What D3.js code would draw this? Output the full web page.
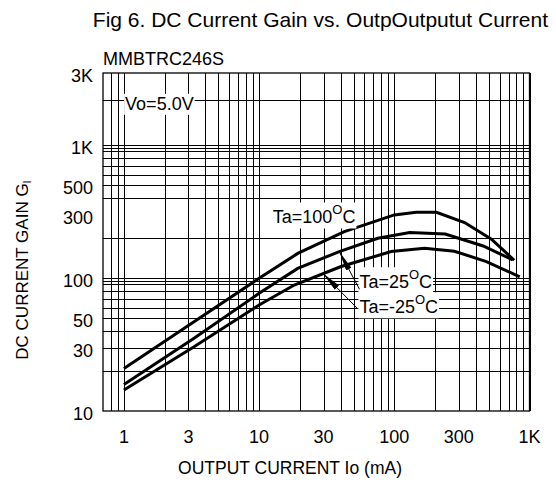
<!DOCTYPE html>
<html lang="en">
<head>
<meta charset="UTF-8">
<title>DC Current Gain vs. Output Current</title>
<script src="https://d3js.org/d3.v7.min.js"></script>
<style>
  body { margin: 0; background: #fff; }
  text { font-family: "Liberation Sans", Arial, sans-serif; fill: #000; }
</style>
</head>
<body>
<div id="chart"></div>
<script>
// curve data, Io in mA
const io100   = [1, 3.3, 10, 19.3, 42.7, 100, 145, 205, 331, 523, 770];
const gain100 = [20.9, 46.9, 99.5, 153, 223, 298, 312, 312, 261, 196, 136];

const io25    = [1, 3.3, 10, 19.3, 39.2, 75.5, 130, 238, 454, 750];
const gain25  = [15.8, 35.2, 76.7, 118, 158, 199, 220, 214, 174, 137];

const ioM25   = [1, 3.3, 10, 18.2, 40.4, 94.8, 167, 278, 480, 847];
const gainM25 = [14.4, 30.4, 62.7, 88.5, 122, 158, 167, 159, 133, 102];

// tick labels
const xTicks = [1, 3, 10, 30, 100, 300, 1000];
const xTickLabels = ["1", "3", "10", "30", "100", "300", "1K"];
const yTicks = [10, 30, 50, 100, 300, 500, 1000, 3000];
const yTickLabels = ["10", "30", "50", "100", "300", "500", "1K", "3K"];

// grid of the log paper
const xGrid = [0.8, 0.9, 1, 2, 3, 4, 5, 6, 7, 8, 9, 10, 20, 30, 40, 50, 60, 70, 80, 90, 100,
               200, 300, 400, 500, 600, 700, 800, 900, 1000];
const yGrid = [20, 30, 40, 50, 60, 70, 80, 90, 95, 100, 200, 400, 500, 600, 700, 800, 900, 950, 1000, 2000];

const W = 556, H = 482;
const plotL = 103, plotR = 529.5, plotT = 73, plotB = 411;

const svg = d3.select("#chart").append("svg")
    .attr("width", W)
    .attr("height", H);

const x = d3.scaleLog().domain([0.7, 1000]).range([plotL, plotR]);
const y = d3.scaleLog().domain([10, 1000, 3000]).range([plotB, 145, plotT]);

// grid lines
svg.append("g").selectAll("line")
    .data(xGrid)
    .enter().append("line")
    .attr("x1", d => Math.round(x(d)) + 0.5)
    .attr("x2", d => Math.round(x(d)) + 0.5)
    .attr("y1", plotT)
    .attr("y2", plotB)
    .attr("stroke", "#000")
    .attr("stroke-width", 1);

svg.append("g").selectAll("line")
    .data(yGrid)
    .enter().append("line")
    .attr("x1", plotL)
    .attr("x2", plotR)
    .attr("y1", d => Math.round(y(d)) + 0.5)
    .attr("y2", d => Math.round(y(d)) + 0.5)
    .attr("stroke", "#000")
    .attr("stroke-width", 1);

// frame
svg.append("rect")
    .attr("x", plotL)
    .attr("y", plotT)
    .attr("width", plotR - plotL)
    .attr("height", plotB - plotT)
    .attr("fill", "none")
    .attr("stroke", "#000")
    .attr("stroke-width", 1.3);

// tick labels
svg.append("g").selectAll("text")
    .data(xTicks)
    .enter().append("text")
    .attr("x", d => x(d))
    .attr("y", 443)
    .attr("text-anchor", "middle")
    .style("font-size", "18px")
    .text((d, i) => xTickLabels[i]);

svg.append("g").selectAll("text")
    .data(yTicks)
    .enter().append("text")
    .attr("x", 93)
    .attr("y", d => y(d) + 9)
    .attr("text-anchor", "end")
    .style("font-size", "18px")
    .text((d, i) => yTickLabels[i]);

// titles
svg.append("text")
    .attr("x", 548)
    .attr("y", 27)
    .attr("text-anchor", "end")
    .style("font-size", "21px")
    .text("Fig 6. DC Current Gain vs. OutpOutputut Current");

svg.append("text")
    .attr("x", 103)
    .attr("y", 65)
    .style("font-size", "18px")
    .text("MMBTRC246S");

svg.append("text")
    .attr("x", 290)
    .attr("y", 474)
    .attr("text-anchor", "middle")
    .style("font-size", "17.5px")
    .text("OUTPUT CURRENT Io (mA)");

const yTitle = svg.append("text")
    .attr("transform", "translate(28,270) rotate(-90)")
    .attr("text-anchor", "middle")
    .style("font-size", "17px");
yTitle.append("tspan").text("DC CURRENT GAIN G");
yTitle.append("tspan").attr("dy", 3).style("font-size", "11px").text("I");

// curves
const line = d3.line()
    .x(d => x(d[0]))
    .y(d => y(d[1]));

const series = [
    io100.map((v, i) => [v, gain100[i]]),
    io25.map((v, i) => [v, gain25[i]]),
    ioM25.map((v, i) => [v, gainM25[i]])
];

svg.append("g").selectAll("path")
    .data(series)
    .enter().append("path")
    .attr("d", line)
    .attr("fill", "none")
    .attr("stroke", "#000")
    .attr("stroke-width", 3);

// labels with white background
function label(io, gain, main, sup, tail) {
    const g = svg.append("g");
    const bg = g.append("rect").attr("fill", "#fff");
    const t = g.append("text")
        .attr("x", x(io))
        .attr("y", y(gain))
        .style("font-size", "18px");
    t.append("tspan").text(main);
    if (sup) {
        t.append("tspan").attr("dy", -9).style("font-size", "13px").text(sup);
        t.append("tspan").attr("dy", 9).text(tail);
    }
    const b = t.node().getBBox();
    bg.attr("x", b.x - 1).attr("y", b.y).attr("width", b.width + 2).attr("height", b.height + 1);
}

label(1.02, 1710, "Vo=5.0V");
label(12.6, 257, "Ta=100", "O", "C");
label(55.2, 83.7, "Ta=25", "O", "C");
label(55.2, 54.3, "Ta=-25", "O", "C");

// arrows from the labels to the curves
svg.append("defs").append("marker")
    .attr("id", "arrow")
    .attr("viewBox", "0 0 20 6")
    .attr("refX", 20)
    .attr("refY", 3)
    .attr("markerWidth", 20)
    .attr("markerHeight", 6)
    .attr("markerUnits", "userSpaceOnUse")
    .attr("orient", "auto")
    .append("path")
    .attr("d", "M0,0 L20,3 L0,6 z")
    .attr("fill", "#000");

const arrows = [
    [[55.3, 82.2], [39.2, 158]],
    [[53.1, 59.2], [29.6, 108.4]]
];

svg.append("g").selectAll("line")
    .data(arrows)
    .enter().append("line")
    .attr("x1", d => x(d[0][0]))
    .attr("y1", d => y(d[0][1]))
    .attr("x2", d => x(d[1][0]))
    .attr("y2", d => y(d[1][1]))
    .attr("stroke", "#000")
    .attr("stroke-width", 1)
    .attr("marker-end", "url(#arrow)");
</script>
</body>
</html>
